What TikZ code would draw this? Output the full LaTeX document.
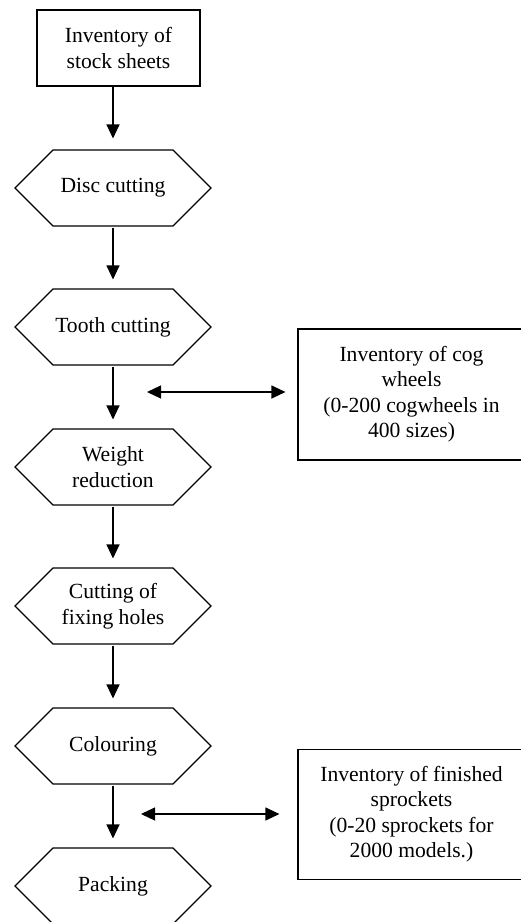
\documentclass[tikz,border=0pt]{standalone}
\usepackage{fontspec}
\setmainfont{Liberation Serif}
\usetikzlibrary{shapes.symbols,arrows.meta}
\begin{document}
\begin{tikzpicture}[x=1pt,y=-1pt,
  every node/.style={font=\fontsize{21.6}{25.5}\selectfont, inner sep=0pt},
  stockbox/.style={draw, line width=1.1pt, rectangle},
  hexstep/.style={draw, line width=1.1pt, shape=signal, signal to=east and west, align=center,
     signal pointer angle=90, minimum width=196pt, minimum height=76pt},
  arr/.style={line width=1.1pt, -{Triangle[width=13pt,length=14pt]}, shorten >=9pt, shorten <=1pt},
  darr/.style={line width=1.1pt, {Triangle[width=13pt,length=14pt]}-{Triangle[width=13pt,length=14pt]}}]
\useasboundingbox (0,0) rectangle (521,922);
\node[stockbox, align=center, minimum width=163pt, minimum height=76pt] (top) at (118.5,48) {Inventory of\\stock sheets};
\node[hexstep] (h1) at (113,188) {Disc cutting};
\node[hexstep] (h2) at (113,327) {Tooth cutting};
\node[hexstep] (h3) at (113,467) {Weight\\reduction};
\node[hexstep] (h4) at (113,606) {Cutting of\\fixing holes};
\node[hexstep] (h5) at (113,746) {Colouring};
\node[hexstep] (h6) at (113,886) {Packing};
\node[stockbox, minimum width=240pt, minimum height=131pt] (cog) at (418,394.5)
  {\begin{tabular}{@{}c@{}}Inventory of cog\\wheels\\(0-200 cogwheels in\\400 sizes)\end{tabular}\hspace*{13pt}};
\node[stockbox, minimum width=240pt, minimum height=130pt] (fin) at (418,814.5)
  {\begin{tabular}{@{}c@{}}Inventory of finished\\sprockets\\(0-20 sprockets for\\2000 models.)\end{tabular}\hspace*{13pt}};
\draw[arr, shorten >=11pt, shorten <=0pt] (h1.north |- top.south) -- (h1.north);
\draw[arr] (h1.south) -- (h2.north);
\draw[arr] (h2.south) -- (h3.north);
\draw[arr] (h3.south) -- (h4.north);
\draw[arr] (h4.south) -- (h5.north);
\draw[arr] (h5.south) -- (h6.north);
\coordinate (c1) at (147,392);
\coordinate (c2) at (141,814);
\draw[darr, shorten >=12pt] (c1) -- (c1 -| cog.west);
\draw[darr, shorten >=18pt] (c2) -- (c2 -| fin.west);
\end{tikzpicture}
\end{document}
